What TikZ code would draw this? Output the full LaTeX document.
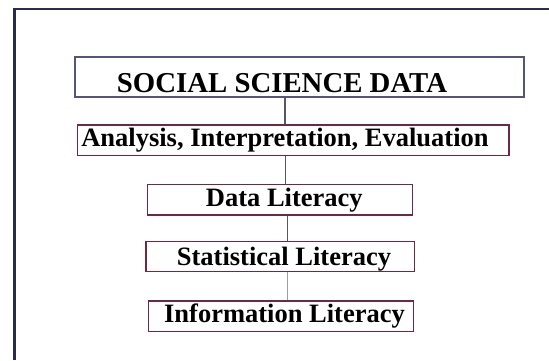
\documentclass[tikz,border=0pt]{standalone}
\usepackage{fontspec}
\setmainfont{Liberation Serif}
\definecolor{framecol}{HTML}{2B2B4B}
\definecolor{navybox}{HTML}{55557A}
\definecolor{maroon}{HTML}{6E2A3C}
\definecolor{conncol}{HTML}{55556E}
\definecolor{connlight}{HTML}{9A9AB0}
\tikzset{
  topbox/.style={draw=navybox, line width=1.3pt, fill=white, inner sep=0pt},
  litbox/.style={draw=maroon, line width=1.3pt, fill=white, inner sep=0pt},
  label/.style={anchor=base, inner sep=0pt, font=\bfseries\fontsize{26.5}{30}\selectfont},
  conn/.style={draw=conncol, line width=1.2pt},
}
\begin{document}
\begin{tikzpicture}[x=1pt,y=1pt]
\useasboundingbox (0,0) rectangle (549,360);
% outer frame: only left and top edges
\coordinate (fc) at (14.5,351);
\draw[framecol, line width=2.3pt] (14.5,0) -- (fc) -- (549,351);
% boxes
\node[topbox, minimum width=449, minimum height=40] (b1) at (299.5,283) {};
\node[litbox, minimum width=431.7, minimum height=30.7] (b2) at (293.2,219.6) {};
\node[litbox, minimum width=265.4, minimum height=30.7] (b3) at (280,160.3) {};
\node[litbox, minimum width=268.7, minimum height=30] (b4) at (280.3,103.3) {};
\node[litbox, minimum width=264.6, minimum height=30.7] (b5) at (281,43.7) {};
% texts
\node[label, font=\bfseries\fontsize{28.8}{32}\selectfont] (t1) at (282,267.3) {SOCIAL SCIENCE DATA};
\node[label] (t2) at (285,213.3) {Analysis, Interpretation, Evaluation};
\node[label] (t3) at (284.3,153.3) {Data Literacy};
\node[label] (t4) at (284,95) {Statistical Literacy};
\node[label] (t5) at (284.5,37.3) {Information Literacy};
% spine coordinates
\coordinate (s1) at (285,0);
\coordinate (s2) at (285.7,0);
\coordinate (s3) at (287.7,0);
\coordinate (s4) at (287.7,0);
% connectors
\draw[conn] (s1 |- b1.south) -- (s1 |- b2.north);
\draw[conn] (s2 |- b2.south) -- (s2 |- b3.north);
\draw[conn] (s3 |- b3.south) -- (s3 |- b4.north);
\draw[conn, draw=connlight] (s4 |- b4.south) -- (s4 |- b5.north);
\end{tikzpicture}
\end{document}
